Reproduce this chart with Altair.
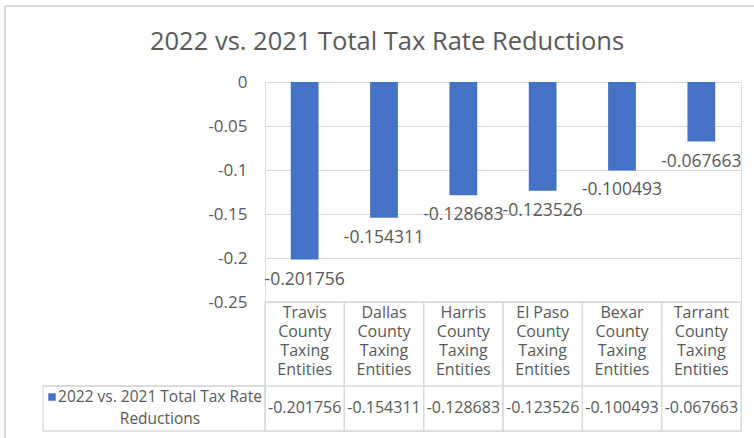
import altair as alt
import pandas as pd

# ---------------- data ----------------
categories = [
    "Travis County Taxing Entities",
    "Dallas County Taxing Entities",
    "Harris County Taxing Entities",
    "El Paso County Taxing Entities",
    "Bexar County Taxing Entities",
    "Tarrant County Taxing Entities",
]
header_labels = [
    "Travis\nCounty\nTaxing\nEntities",
    "Dallas\nCounty\nTaxing\nEntities",
    "Harris\nCounty\nTaxing\nEntities",
    "El Paso\nCounty\nTaxing\nEntities",
    "Bexar\nCounty\nTaxing\nEntities",
    "Tarrant\nCounty\nTaxing\nEntities",
]
values = [-0.201756, -0.154311, -0.128683, -0.123526, -0.100493, -0.067663]
y_ticks = [0, -0.05, -0.1, -0.15, -0.2, -0.25]
title_text = "2022 vs. 2021 Total Tax Rate Reductions"
legend_text = "2022 vs. 2021 Total Tax Rate\nReductions"

df = pd.DataFrame({"category": categories, "header": header_labels, "value": values})
one = pd.DataFrame({"t": [title_text], "leg": [legend_text]})

# ---------------- layout ----------------
W, H = 476, 349          # plot area incl. data table
CHART_H = 220            # bar part
ROW_SPLIT = 304          # header row / values row boundary
LEG_LEFT = -222          # left edge of legend cell
TEXT = "#595959"
GRID = "#d9d9d9"
BLUE = "#4472C4"
FONT = "Open Sans"

x_enc = alt.X("category:N", sort=categories,
              scale=alt.Scale(paddingInner=0, paddingOuter=0), axis=None)
y_scale = alt.Scale(domain=[-0.25, 0], range=[CHART_H, 0], nice=False)

base = alt.Chart(df)

border_top = alt.Chart(one).mark_rule(color=GRID, strokeWidth=2).encode(
    x=alt.value(-260), x2=alt.value(W + 30), y=alt.value(-76))
border_left = alt.Chart(one).mark_rule(color=GRID, strokeWidth=2).encode(
    x=alt.value(-260), y=alt.value(-76), y2=alt.value(H + 30))

bars = base.mark_bar(color=BLUE, width=alt.RelativeBandSize(band=0.35)).encode(
    x=x_enc,
    y=alt.Y("value:Q", scale=y_scale,
            axis=alt.Axis(values=y_ticks, format="~g", title=None, domain=False,
                          ticks=False, grid=True, gridColor=GRID, labelFontSize=17,
                          labelColor=TEXT, labelFont=FONT, labelPadding=18)),
)

labels = base.mark_text(font=FONT, fontSize=17.5, color=TEXT, dy=20,
                        baseline="middle").encode(
    x=x_enc, y=alt.Y("value:Q", scale=y_scale),
    text=alt.Text("value:Q", format=".6f"))

cells = base.mark_rect(fillOpacity=0, stroke=GRID, strokeWidth=1.3).encode(
    x=x_enc, y=alt.value(CHART_H), y2=alt.value(H))

row_line = alt.Chart(one).mark_rule(color=GRID, strokeWidth=1.3).encode(
    x=alt.value(LEG_LEFT), x2=alt.value(W), y=alt.value(ROW_SPLIT))

leg_cell = alt.Chart(one).mark_rect(fillOpacity=0, stroke=GRID, strokeWidth=1.3).encode(
    x=alt.value(LEG_LEFT), x2=alt.value(0), y=alt.value(ROW_SPLIT), y2=alt.value(H))

header_text = base.mark_text(font=FONT, fontSize=16, color=TEXT, lineBreak="\n",
                             lineHeight=19, baseline="middle").encode(
    x=x_enc, y=alt.value(231), text="header:N")

value_text = base.mark_text(font=FONT, fontSize=16, color=TEXT,
                            baseline="middle").encode(
    x=x_enc, y=alt.value(326), text=alt.Text("value:Q", format=".6f"))

leg_square = alt.Chart(one).mark_square(color=BLUE, size=56, opacity=1).encode(
    x=alt.value(-213), y=alt.value(315))

leg_text = alt.Chart(one).mark_text(font=FONT, fontSize=15.5, color=TEXT,
                                    lineBreak="\n", lineHeight=22,
                                    baseline="middle").encode(
    x=alt.value(-105), y=alt.value(315), text="leg:N")

title = alt.Chart(one).mark_text(font=FONT, fontSize=25.5, color=TEXT,
                                 baseline="middle").encode(
    x=alt.value(122), y=alt.value(-40), text="t:N")

chart = alt.layer(
    border_top, border_left, cells, row_line, leg_cell, bars, labels,
    header_text, value_text, leg_square, leg_text, title,
).properties(
    width=W, height=H, autosize="none",
    padding={"left": 265, "top": 82, "right": 13, "bottom": 7},
    background="white",
).configure_view(stroke=None).configure(
    locale=alt.Locale(number=alt.NumberLocale(
        decimal=".", thousands=",", grouping=[3], currency=["$", ""], minus="-"))
)

chart.save("out.html", embed_options={"renderer": "svg", "actions": False})
